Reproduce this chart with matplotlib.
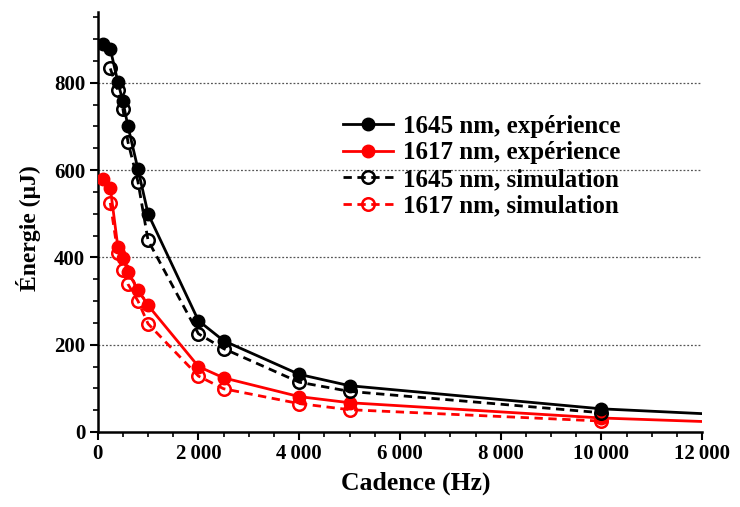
import matplotlib.pyplot as plt
from matplotlib.ticker import MultipleLocator, FuncFormatter

# cadence (Hz)
cad_exp = [100, 250, 400, 500, 600, 800, 1000, 2000, 2500, 4000, 5000, 10000, 12000]
cad_sim = [250, 400, 500, 600, 800, 1000, 2000, 2500, 4000, 5000, 10000]

# energy (uJ)
e1645_exp = [890, 878, 802, 758, 701, 602, 500, 255, 209, 132, 106, 53, 42]
e1617_exp = [580, 560, 424, 399, 367, 325, 290, 150, 124, 81, 67, 32, 24]
e1645_sim = [833, 783, 741, 665, 573, 439, 225, 191, 114, 93, 44]
e1617_sim = [525, 409, 371, 339, 300, 248, 128, 99, 65, 51, 25]

plt.rcParams['font.family'] = ['Liberation Serif', 'DejaVu Serif']
plt.rcParams['font.weight'] = 'bold'

fig = plt.figure(figsize=(7.4, 5.07), dpi=100)
ax = fig.add_axes([0.132, 0.148, 0.817, 0.828])

for yv in [200, 400, 600, 800]:
    ax.axhline(yv, color='#555555', lw=0.9, ls=(0, (1.5, 1.5)), zorder=0)

n = len(cad_exp) - 1  # last point has no marker
ax.plot(cad_exp, e1645_exp, '-o', color='black', lw=2, ms=9,
        markevery=list(range(n)), label='1645 nm, expérience', zorder=4)
ax.plot(cad_exp, e1617_exp, '-o', color='red', lw=2, ms=9,
        markevery=list(range(n)), label='1617 nm, expérience', zorder=3)
ax.plot(cad_sim, e1645_sim, '--o', color='black', lw=2, ms=9, mfc='none',
        mew=1.8, dashes=(3, 2), label='1645 nm, simulation', zorder=4)
ax.plot(cad_sim, e1617_sim, '--o', color='red', lw=2, ms=9, mfc='none',
        mew=1.8, dashes=(3, 2), label='1617 nm, simulation', zorder=3)

ax.set_xlim(0, 12000)
ax.set_ylim(0, 962)
ax.xaxis.set_major_locator(MultipleLocator(2000))
ax.xaxis.set_minor_locator(MultipleLocator(500))
ax.yaxis.set_major_locator(MultipleLocator(200))
ax.yaxis.set_minor_locator(MultipleLocator(50))
ax.xaxis.set_major_formatter(FuncFormatter(
    lambda v, p: f'{int(v):,}'.replace(',', '\u2009') if v else '0'))

for s in ['top', 'right']:
    ax.spines[s].set_visible(False)
for s in ['left', 'bottom']:
    ax.spines[s].set_linewidth(1.8)
ax.tick_params(which='major', length=6, width=1.5, labelsize=15, pad=3)
ax.tick_params(which='minor', length=3.5, width=1.2)

ax.set_xlabel('Cadence (Hz)', fontsize=18.5, fontweight='bold')
ax.xaxis.set_label_coords(0.526, -0.095)
ax.set_ylabel('Énergie (µJ)', fontsize=17, fontweight='bold')
ax.yaxis.set_label_coords(-0.094, 0.485)

leg = ax.legend(loc='upper left', bbox_to_anchor=(0.39, 0.78), frameon=False,
                fontsize=18, handlelength=2.0, labelspacing=0.15,
                handletextpad=0.4, borderaxespad=0)
for t in leg.get_texts():
    t.set_fontweight('bold')

plt.savefig('out.png', dpi=100)
